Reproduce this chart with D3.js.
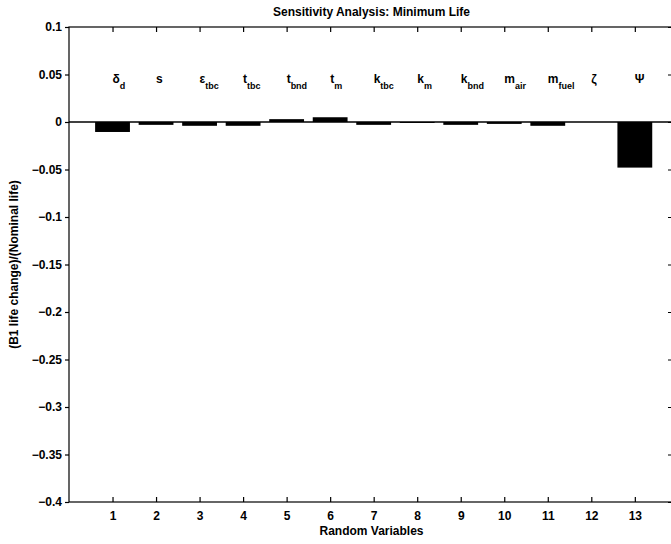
<!DOCTYPE html>
<html>
<head>
<meta charset="utf-8">
<script src="https://cdn.jsdelivr.net/npm/d3@7"></script>
<style>
  html, body { margin: 0; padding: 0; background: #fff; }
  svg { display: block; }
  text { font-family: "Liberation Sans", Arial, Helvetica, sans-serif; font-weight: bold; fill: #000; }
</style>
</head>
<body>
<svg id="chart" width="671" height="544"></svg>
<script>
// Random variable indices and their symbols (main letter + subscript)
const variables = [1, 2, 3, 4, 5, 6, 7, 8, 9, 10, 11, 12, 13];
const symbolMain = ["δ", "s", "ε", "t", "t", "t", "k", "k", "k", "m", "m", "ζ", "Ψ"];
const symbolSub  = ["d", "", "tbc", "tbc", "bnd", "m", "tbc", "m", "bnd", "air", "fuel", "", ""];
// Relative change of B1 life per variable
const sensitivity = [-0.0105, -0.003, -0.004, -0.004, 0.003, 0.005, -0.003, -0.001, -0.003, -0.002, -0.004, 0.0, -0.048];
// Axis ticks
const yTicks = [0.1, 0.05, 0, -0.05, -0.1, -0.15, -0.2, -0.25, -0.3, -0.35, -0.4];
const yTickLabels = ["0.1", "0.05", "0", "−0.05", "−0.1", "−0.15", "−0.2", "−0.25", "−0.3", "−0.35", "−0.4"];
const xTicks = [1, 2, 3, 4, 5, 6, 7, 8, 9, 10, 11, 12, 13];

const svg = d3.select("#chart");
const plotLeft = 69, plotRight = 674, plotTop = 27, plotBottom = 502;

const x = d3.scaleLinear().domain([0, 13.9]).range([plotLeft, plotRight]);
const y = d3.scaleLinear().domain([-0.4, 0.1]).range([plotBottom, plotTop]);
const barW = x(0.8) - x(0);

// Bars
svg.append("g").selectAll("rect")
  .data(variables)
  .join("rect")
  .attr("x", (d) => x(d) - barW / 2)
  .attr("width", barW)
  .attr("y", (d, i) => y(Math.max(0, sensitivity[i])))
  .attr("height", (d, i) => Math.abs(y(sensitivity[i]) - y(0)))
  .attr("fill", "#000");

// Zero baseline
svg.append("line")
  .attr("x1", plotLeft).attr("x2", plotRight)
  .attr("y1", y(0)).attr("y2", y(0))
  .attr("stroke", "#000").attr("stroke-width", 1.5);

// Frame
svg.append("rect")
  .attr("x", plotLeft).attr("y", plotTop)
  .attr("width", plotRight - plotLeft).attr("height", plotBottom - plotTop)
  .attr("fill", "none").attr("stroke", "#000").attr("stroke-width", 1.2);

// Y axis (left)
const yAxis = d3.axisLeft(y)
  .tickValues(yTicks)
  .tickFormat((d, i) => yTickLabels[i])
  .tickSize(4)
  .tickPadding(3);
const gy = svg.append("g").attr("transform", `translate(${plotLeft},0)`).call(yAxis);
gy.select(".domain").remove();
gy.selectAll("text").style("font-size", "12px").style("font-family", null);
gy.selectAll("line").attr("stroke-width", 1.2);

// Y ticks on the right side, pointing inward
svg.append("g").attr("transform", `translate(${plotRight},0)`)
  .call(d3.axisRight(y).tickValues(yTicks).tickSize(-6).tickFormat(""))
  .call((g) => g.select(".domain").remove());

// X axis (bottom) with inward ticks
const gx = svg.append("g").attr("transform", `translate(0,${plotBottom})`)
  .call(d3.axisBottom(x).tickValues(xTicks).tickFormat(d3.format("d")).tickSizeInner(-5).tickSizeOuter(0).tickPadding(9));
gx.select(".domain").remove();
gx.selectAll("text").style("font-size", "12px").style("font-family", null);
gx.selectAll("line").attr("stroke-width", 1.2);

// X ticks on the top side, pointing inward
svg.append("g").attr("transform", `translate(0,${plotTop})`)
  .call(d3.axisTop(x).tickValues(xTicks).tickSizeInner(-5).tickSizeOuter(0).tickFormat(""))
  .call((g) => g.select(".domain").remove())
  .selectAll("line").attr("stroke-width", 1.2);

// Variable symbols above the bars
const labels = svg.append("g").selectAll("text")
  .data(variables)
  .join("text")
  .attr("x", (d) => x(d))
  .attr("y", y(0.041))
  .style("font-size", "12px");
labels.append("tspan").text((d, i) => symbolMain[i]);
labels.append("tspan")
  .attr("dy", 6)
  .style("font-size", "9px")
  .text((d, i) => symbolSub[i]);

// Title and axis labels
svg.append("text")
  .attr("x", (plotLeft + plotRight) / 2)
  .attr("y", 16)
  .attr("text-anchor", "middle")
  .style("font-size", "12px")
  .text("Sensitivity Analysis: Minimum Life");

svg.append("text")
  .attr("x", (plotLeft + plotRight) / 2)
  .attr("y", 535)
  .attr("text-anchor", "middle")
  .style("font-size", "12px")
  .text("Random Variables");

svg.append("text")
  .attr("transform", `translate(18,${(plotTop + plotBottom) / 2}) rotate(-90)`)
  .attr("text-anchor", "middle")
  .style("font-size", "12px")
  .text("(B1 life change)/(Nominal life)");
</script>
</body>
</html>
